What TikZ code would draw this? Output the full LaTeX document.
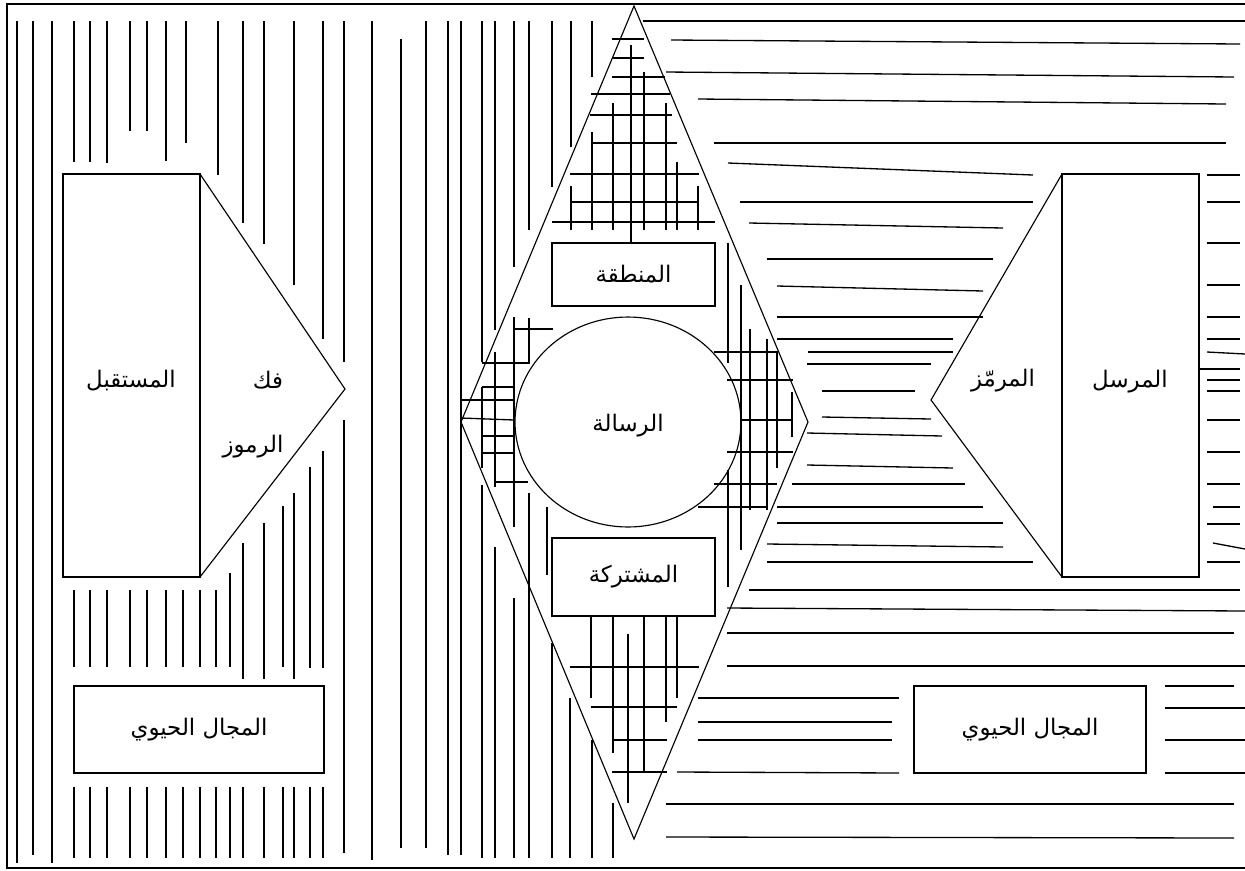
\documentclass[tikz,border=0pt]{standalone}
\usepackage{fontspec}
\newfontfamily\arabicfont[Script=Arabic]{DejaVu Sans}
\TeXXeTstate=1
\usepackage{tikz}
\usetikzlibrary{positioning, shapes.geometric}
\definecolor{inkBlack}{HTML}{000000}
\newcommand{\artxt}[1]{\beginR #1\endR}

\begin{document}
\begin{tikzpicture}[
  x=0.02cm, y=-0.02cm,
  every node/.style={font=\arabicfont\fontsize{13}{15}\selectfont, text=inkBlack},
  outline/.style={draw=inkBlack, line width=0.65pt},
  hatch/.style={inkBlack, line width=0.75pt},
  tagbox/.style={
    rectangle, draw=inkBlack, line width=0.65pt,
    minimum width=3.26cm, inner sep=0pt
  },
  fieldbox/.style={
    rectangle, draw=inkBlack, line width=0.65pt,
    minimum height=1.74cm, inner sep=0pt
  },
]
\useasboundingbox (0,0) rectangle (1245,870);
\clip (0,0) rectangle (1245,870);

% Frame
\draw[inkBlack, line width=0.8pt] (7,4) rectangle (1260,868);

% Vertical hatching, left field and left side of the shared zone
\foreach \x/\ya/\yb in {
  17/21/863, 33/21/855, 52/21/863,
  74/21/162, 90/21/162, 107/21/163, 130/21/131, 147/21/131, 166/21/161,
  186/21/143, 218/21/175, 243/21/223, 264/21/244, 294/21/285, 323/21/339,
  344/21/362,
  74/590/667, 90/590/667, 107/590/667, 130/590/667, 147/590/667,
  166/590/667, 183/590/667, 200/590/667, 216/590/667, 230/573/667,
  243/543/679, 264/523/679, 283/506/667, 294/493/679, 310/467/668,
  323/451/668, 344/420/853,
  372/21/860, 401/39/848, 426/21/848, 448/21/855, 461/21/855,
  482/21/362, 495/21/330, 514/21/267, 529/21/230, 552/21/187, 571/21/147,
  592/21/77,
  514/317/527, 495/352/487, 482/387/468, 529/318/363,
  482/485/858, 495/547/858, 514/598/858, 529/493/858, 547/507/575,
  552/643/858, 570/698/858, 592/740/858, 613/803/858,
  631/45/243, 644/72/230, 613/103/230, 666/103/230, 592/132/230,
  677/162/230, 571/186/230, 698/186/230,
  591/617/698, 613/617/753, 628/634/803, 644/617/773, 666/617/722,
  677/617/698,
  728/243/363, 728/470/587, 741/285/550, 750/329/510, 767/339/510,
  777/353/468, 792/392/437}
  \draw[hatch] (\x,\ya) -- (\x,\yb);
\foreach \x in {74,90,107,130,147,166,183,200,216,230,243,264,283,294,310,323}
  \draw[hatch] (\x,787) -- (\x,858);

% Horizontal hatching, shared zone and right field
\foreach \xa/\ya/\xb/\yb in {
  612/39/644/39, 613/58/644/58, 612/77/665/77, 591/94/670/94,
  590/115/672/115, 592/143/677/143, 570/174/699/174, 571/202/699/202,
  552/222/715/222,
  514/329/553/329, 482/363/530/363, 482/387/514/387, 461/400/514/400,
  461/418/514/420, 482/436/514/436, 482/453/514/453, 495/482/528/482,
  714/352/778/352, 727/380/793/380, 741/420/792/420, 727/452/793/452,
  714/484/777/484, 698/507/767/507,
  570/667/699/667, 591/707/677/707, 613/740/667/740, 612/772/667/772,
  643/21/1245/21, 671/40/1240/44, 666/72/1234/77, 698/99/1226/104,
  714/143/1226/143, 728/163/1033/175, 740/202/1033/202, 749/223/1003/228,
  767/259/993/259, 777/286/983/291, 777/317/983/317, 777/339/953/339,
  808/352/953/352, 807/364/931/364, 822/391/915/391, 822/417/931/419,
  807/433/942/436, 807/465/953/468, 792/484/965/484, 777/507/983/507,
  777/523/1003/523, 767/544/1003/547, 767/562/1033/562, 749/590/1240/590,
  727/608/1245/611, 727/633/1234/633, 727/666/1245/666, 698/698/899/698,
  698/722/892/722, 698/740/892/740, 677/772/899/773, 666/804/1234/804,
  666/837/1234/838,
  1207/175/1240/175, 1207/202/1240/202, 1207/243/1240/243,
  1207/285/1240/285, 1207/317/1240/317, 1207/339/1240/339,
  1207/352/1245/354, 1199/369/1240/369, 1207/380/1240/380,
  1207/391/1240/391, 1207/420/1240/420, 1207/452/1240/452,
  1207/484/1240/484, 1213/507/1240/507, 1207/524/1240/524,
  1213/543/1245/549, 1207/562/1240/562,
  1165/686/1234/686, 1165/708/1245/708, 1165/740/1245/740,
  1165/773/1245/773}
  \draw[hatch] (\xa,\ya) -- (\xb,\yb);

% Receiver and decoder
\draw[outline] (63,174) rectangle (200,577);
\draw[outline] (200,174) -- (345,389) -- (200,577);
\node (receiver) at (131,381) {\artxt{المستقبل}};
\node (decode) at (268,380) {\artxt{فك}};
\node (symbols) at (253,447) {\artxt{الرموز}};

% Sender and encoder
\draw[outline] (1062,174) rectangle (1199,577);
\draw[outline] (1062,174) -- (931,400) -- (1062,577);
\node (encoder) at (1003,381) {\artxt{المرمّز}};
\node (sender) at (1130,382) {\artxt{المرسل}};

% Shared zone with the message
\draw[outline] (634,6) -- (808,422) -- (634,839) -- (461,422) -- cycle;
\node[tagbox, minimum height=1.26cm] (zone) at (633.5,274.5) {\artxt{المنطقة}};
\node[ellipse, draw=inkBlack, line width=0.65pt, inner sep=0pt,
  minimum width=4.52cm, minimum height=4.2cm] (message) at (628,422) {};
\node (msgtext) at (628,426) {\artxt{الرسالة}};
\node[tagbox, minimum height=1.56cm] (shared) at (633.5,577) {\artxt{المشتركة}};

% Vital fields
\node[fieldbox, minimum width=5cm] (leftfield) at (199,729.5) {\artxt{المجال الحيوي}};
\node[fieldbox, minimum width=4.64cm] (rightfield) at (1030,729.5) {\artxt{المجال الحيوي}};

\end{tikzpicture}
\end{document}
